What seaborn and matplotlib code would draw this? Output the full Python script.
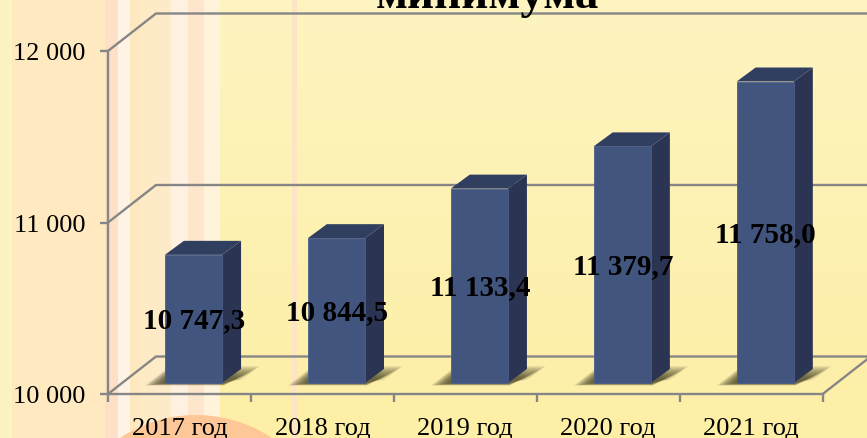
import matplotlib
matplotlib.use("Agg")
import matplotlib.pyplot as plt
import matplotlib.colors as mcolors
import numpy as np
import seaborn as sns
from matplotlib.patches import Circle, Polygon
from matplotlib.transforms import Affine2D

# Chart data
years = ["2017 год", "2018 год", "2019 год", "2020 год", "2021 год"]
values = [10747.3, 10844.5, 11133.4, 11379.7, 11758.0]
value_labels = ["10 747,3", "10 844,5", "11 133,4", "11 379,7", "11 758,0"]
y_ticks = [10000, 11000, 12000]
y_tick_labels = ["10 000", "11 000", "12 000"]
title_text = "минимума"

W, H = 867, 439
GRID = "#868686"
FRONT, SIDE, TOP = "#42557f", "#2b3553", "#303e60"

# Depth of the chart box and of the bars, in pixels
BOX_DX, BOX_DY = 48, 37.5
BAR_DX, BAR_DY = 19, 14
FLOOR_DX, FLOOR_DY = 14, 11

sns.set_theme(style="white")
plt.rcParams["font.family"] = ["Liberation Serif", "DejaVu Serif"]

fig = plt.figure(figsize=(W / 100, H / 100), dpi=100)

# Background, in image pixels
bg = fig.add_axes([0, 0, 1, 1], zorder=0)
bg.set_xlim(0, W)
bg.set_ylim(H, 0)
bg.axis("off")
grad = mcolors.LinearSegmentedColormap.from_list("wall", ["#fef4c0", "#fdefa6"])
bg.imshow(np.linspace(0, 1, 64).reshape(-1, 1), cmap=grad, extent=(0, W, H, 0), aspect="auto")
stripes = [
    (0, 12, "#fdf2c2"), (12, 105, "#fee9c0"), (105, 118, "#fde0c6"),
    (118, 130, "#fff3e6"), (130, 140, "#fee8c0"), (140, 156, "#feeac4"),
    (156, 171, "#fdeac8"), (171, 188, "#fff1e2"), (188, 204, "#fde6cc"),
    (204, 220, "#fff3dc"), (292, 297, "#fde4c4"),
]
for x0, x1, c in stripes:
    bg.axvspan(x0, x1, color=c, lw=0)
bg.add_patch(Circle((196, 553), 137, color="#fdc797", lw=0))
bg.set_xlim(0, W)
bg.set_ylim(H, 0)

# Main axes, the front plane of the box
ax = fig.add_axes([108 / W, (H - 395) / H, 714.7 / W, 343 / H], zorder=1)
ax.patch.set_alpha(0)
sns.barplot(x=years, y=values, ax=ax, color=FRONT, width=0.4, saturation=1, zorder=5)
ax.set_xlim(-0.5, len(years) - 0.5)
ax.set_ylim(y_ticks[0], y_ticks[-1])
ax.set_xlabel("")
ax.set_ylabel("")


def px(x, y):
    """Data position to display pixels"""
    return ax.transData.transform((x, y))


base = y_ticks[0]
no_trans = Affine2D()
box = np.array([BOX_DX, BOX_DY])
p1 = px(len(years) - 0.5, base)

# Box lines on the back wall and the floor
for t in y_ticks:
    a = px(-0.5, t)
    b = a + box
    ax.plot([a[0], b[0], W + 5], [a[1], b[1], b[1]], transform=no_trans, color=GRID, lw=1.7,
            zorder=2, clip_on=False)
ax.plot([p1[0], p1[0] + BOX_DX], [p1[1], p1[1] + BOX_DY], transform=no_trans, color=GRID,
        lw=1.7, zorder=2, clip_on=False)

# Bars: sit them on the floor and add the side, top and shadow
shift = Affine2D().translate(FLOOR_DX, FLOOR_DY)
for i, (patch, v) in enumerate(zip(ax.patches[:len(values)], values)):
    patch.set_y(base)
    patch.set_height(v - base)
    patch.set_transform(ax.transData + shift)
    patch.set_clip_on(False)
    patch.set_edgecolor("#4b5e89")
    patch.set_linewidth(0.6)
    x0, x1 = patch.get_x(), patch.get_x() + patch.get_width()
    fl = px(x0, base) + (FLOOR_DX, FLOOR_DY)
    fr = px(x1, base) + (FLOOR_DX, FLOOR_DY)
    tl = px(x0, v) + (FLOOR_DX, FLOOR_DY)
    tr = px(x1, v) + (FLOOR_DX, FLOOR_DY)
    d = np.array([BAR_DX, BAR_DY])

    # Soft shadow, many faint polygons that tighten towards the bar
    for k in np.linspace(1, 0.1, 16):
        pts = [
            fl + (-20 * k, -2.5 * k),
            fr + (2 * k, -2.5 * k),
            fr + (19 + 19 * k, 2 + 15 * k),
            fr + (19 - 2 * k, 2 + 15 * k),
            fl + (19, 14),
            fl + (0, 2 + 11 * k),
        ]
        ax.add_patch(Polygon(pts, transform=no_trans, color="#464226", alpha=0.09, lw=0,
                             zorder=3, clip_on=False))

    ax.add_patch(Polygon([fr, fr + d, tr + d, tr], transform=no_trans, color=SIDE, lw=0,
                         zorder=4, clip_on=False))
    ax.add_patch(Polygon([tl, tr, tr + d, tl + d], transform=no_trans, color=TOP, lw=0,
                         zorder=4, clip_on=False))

    # Value label in the middle of the bar
    mid = px(i, (base + v) / 2) + (FLOOR_DX, FLOOR_DY)
    ax.text(mid[0] + 0.5, mid[1] - 1, value_labels[i], transform=no_trans, ha="center", va="center",
            fontsize=21, fontweight="bold", color="black", zorder=8, clip_on=False)

# Axes and ticks
for name, spine in ax.spines.items():
    spine.set_visible(name in ("left", "bottom"))
    spine.set_color(GRID)
    spine.set_linewidth(1.7)
    spine.set_zorder(2)
ax.set_yticks(y_ticks, y_tick_labels)
ax.tick_params(axis="y", left=True, length=6, width=1.7, color=GRID, labelsize=18.9, pad=10.5,
               labelcolor="black")
ax.set_xticks(range(len(years)), years)
ax.tick_params(axis="x", bottom=False, labelsize=19, pad=10.5, labelcolor="black")
ax.set_xticks(np.arange(len(years) + 1) - 0.5, minor=True)
ax.tick_params(axis="x", which="minor", bottom=True, length=6, width=1.7, color=GRID)

# Title, cut off by the top edge of the picture
fig.text(487 / W, 1 - 8 / H, title_text, ha="center", va="baseline", fontsize=33.8,
         fontweight="bold", color="black")

fig.savefig("out.png", dpi=100)
